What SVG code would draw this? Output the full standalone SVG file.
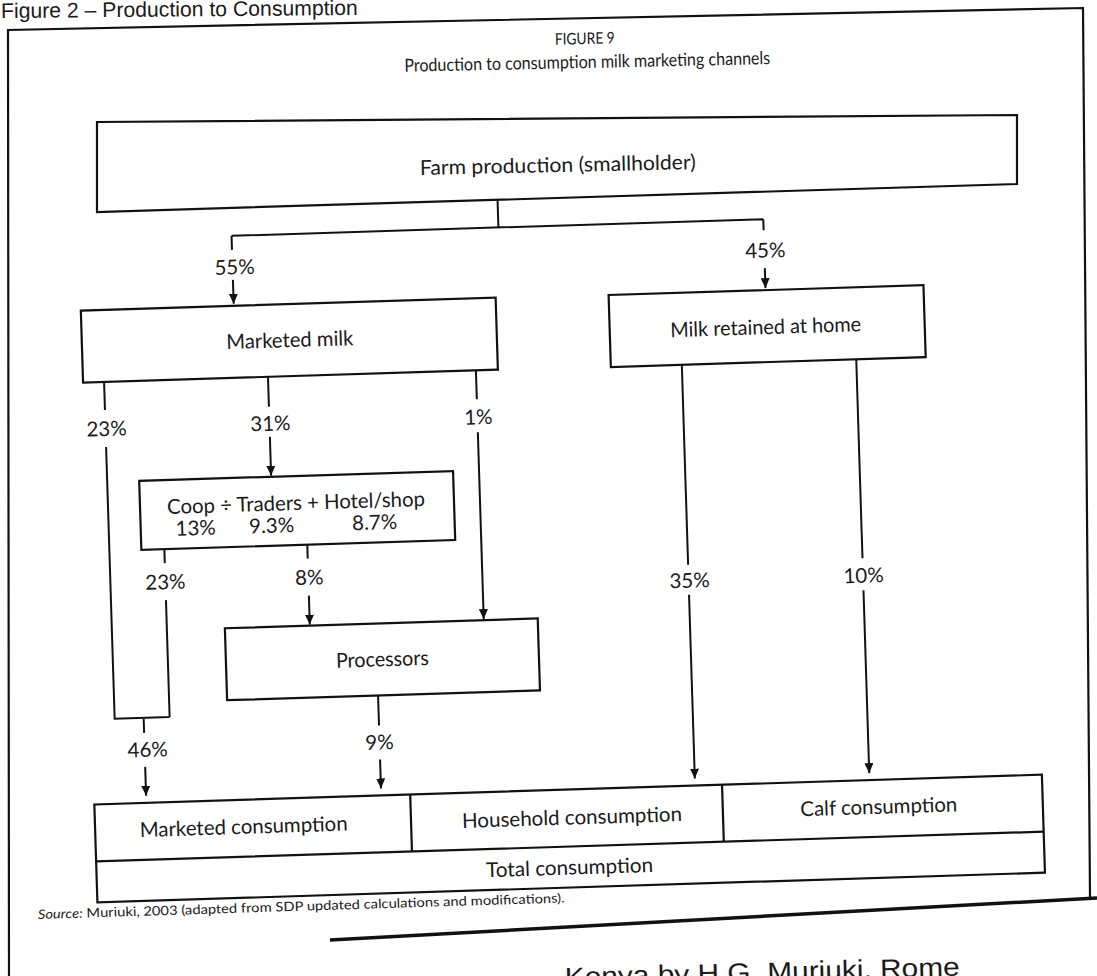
<svg xmlns="http://www.w3.org/2000/svg" width="1097" height="976" viewBox="0 0 1097 976">
<defs>
<marker id="ah" markerUnits="userSpaceOnUse" markerWidth="10" markerHeight="9" refX="10" refY="4.5" orient="auto"><path d="M0,0 L10,4.5 L0,9 z" fill="#111"/></marker>
<style>
.bx{fill:none;stroke:#111;stroke-width:2.2}
.ln{fill:none;stroke:#111;stroke-width:2}
.ar{fill:none;stroke:#111;stroke-width:2;marker-end:url(#ah)}
text{font-family:Lato,"Open Sans","Liberation Sans",sans-serif;fill:#1a1a1a}
.lb{font-size:20.5px;text-anchor:middle}
.pc{font-size:20.5px;text-anchor:middle}
.ar2{font-family:"Liberation Sans",Arial,sans-serif}
</style>
</defs>
<rect width="1097" height="976" fill="#fff"/>
<text class="ar2" x="1" y="18" font-size="21.2" transform="rotate(-0.5 1 18)">Figure 2 – Production to Consumption</text>
<text class="ar2" x="565" y="986" font-size="26" textLength="395" lengthAdjust="spacingAndGlyphs" transform="rotate(-1.5 565 986)">Kenya by H.G. Muriuki, Rome</text>
<g id="frame">
  <path class="bx" d="M9,976 L8,30 L1083,8 L1090,897"/>
  <path fill="none" stroke="#111" stroke-width="3.5" d="M330,940 L1097,898"/>
</g>
<g id="title" transform="rotate(-1.2 585 50)">
  <text x="585" y="44" font-size="16" text-anchor="middle" textLength="60" lengthAdjust="spacingAndGlyphs">FIGURE 9</text>
  <text x="587" y="68" font-size="18" text-anchor="middle" textLength="366" lengthAdjust="spacingAndGlyphs">Production to consumption milk marketing channels</text>
</g>
<text x="38" y="919" font-size="13" textLength="527" lengthAdjust="spacingAndGlyphs" transform="rotate(-1.8 38 919)"><tspan font-style="italic">Source:</tspan> Muriuki, 2003 (adapted from SDP updated calculations and modifications).</text>
<g id="farm">
  <path class="bx" d="M97,122 L1017,115 L1017,184 L97,212 Z"/>
  <text class="lb" x="558" y="172" textLength="276" lengthAdjust="spacingAndGlyphs" transform="rotate(-1.2 558 172)">Farm production (smallholder)</text>
</g>
<g transform="rotate(-1.8 550 500)">
  <g id="marketed-milk">
    <rect class="bx" x="87" y="296" width="415" height="72"/>
    <text class="lb" x="295" y="339" textLength="127" lengthAdjust="spacingAndGlyphs">Marketed milk</text>
  </g>
  <g id="retained">
    <rect class="bx" x="615" y="297" width="315" height="72"/>
    <text class="lb" x="771" y="341" textLength="191" lengthAdjust="spacingAndGlyphs">Milk retained at home</text>
  </g>
  <g id="coop">
    <rect class="bx" x="140" y="468" width="314" height="69"/>
    <text class="lb" x="296" y="502" textLength="258" lengthAdjust="spacingAndGlyphs">Coop ÷ Traders + Hotel/shop</text>
    <text class="pc" x="195" y="524">13%</text>
    <text class="pc" x="271" y="524">9.3%</text>
    <text class="pc" x="374" y="524">8.7%</text>
  </g>
  <g id="processors">
    <rect class="bx" x="221" y="618" width="313" height="72"/>
    <text class="lb" x="377.5" y="661" textLength="93" lengthAdjust="spacingAndGlyphs">Processors</text>
  </g>
  <g id="consumption">
    <rect class="bx" x="85" y="790" width="948" height="98"/>
    <path class="bx" d="M85,847 L1033,847 M401,790 L401,847 M713,790 L713,847"/>
    <text class="lb" x="233.5" y="824" textLength="208" lengthAdjust="spacingAndGlyphs">Marketed consumption</text>
    <text class="lb" x="562" y="825" textLength="220" lengthAdjust="spacingAndGlyphs">Household consumption</text>
    <text class="lb" x="869" y="824" textLength="157" lengthAdjust="spacingAndGlyphs">Calf consumption</text>
    <text class="lb" x="558" y="875" textLength="167" lengthAdjust="spacingAndGlyphs">Total consumption</text>
  </g>
  <g id="connectors">
    <path class="ln" d="M507,199 L507,226 M240,226 L772,226 M240,226 L240,240 M772,226 L772,237"/>
    <path class="ar" d="M240,270 L240,294"/>
    <path class="ar" d="M772,275 L772,295"/>
    <path class="ln" d="M108,368 L108,396 M108,433 L108,705 L163,705 M163,537 L163,551 M163,588 L163,705 M137,705 L137,720"/>
    <path class="ar" d="M137,754 L137,783"/>
    <path class="ln" d="M272,368 L272,398"/>
    <path class="ar" d="M272,428 L272,467"/>
    <path class="ln" d="M480,368 L480,397"/>
    <path class="ar" d="M480,430 L480,617"/>
    <path class="ln" d="M306,537 L306,551"/>
    <path class="ar" d="M306,588 L306,617"/>
    <path class="ln" d="M372,690 L372,720"/>
    <path class="ar" d="M372,754 L372,783"/>
    <path class="ln" d="M686,369 L686,569"/>
    <path class="ar" d="M686,599 L686,783"/>
    <path class="ln" d="M860.5,369 L860.5,568"/>
    <path class="ar" d="M860.5,600 L860.5,783"/>
  </g>
  <g id="labels">
    <text class="pc" x="242" y="264.5">55%</text>
    <text class="pc" x="773" y="264.5">45%</text>
    <text class="pc" x="109" y="422">23%</text>
    <text class="pc" x="273" y="422">31%</text>
    <text class="pc" x="481" y="422">1%</text>
    <text class="pc" x="163" y="577">23%</text>
    <text class="pc" x="307" y="577">8%</text>
    <text class="pc" x="140" y="744">46%</text>
    <text class="pc" x="372" y="744">9%</text>
    <text class="pc" x="687" y="592">35%</text>
    <text class="pc" x="861" y="592.5">10%</text>
  </g>
</g>
</svg>
